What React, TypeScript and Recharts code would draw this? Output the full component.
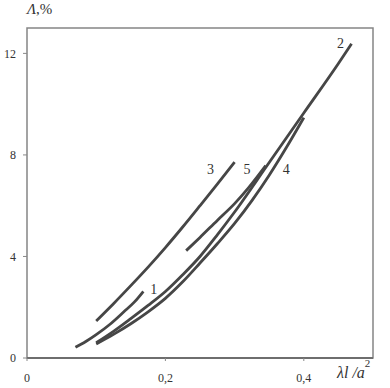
import { LineChart, Line, XAxis, YAxis, ReferenceArea, ReferenceDot } from 'recharts'

// curves: x = λl/a², y = Λ, %
const curve1X = [0.07, 0.085, 0.1, 0.12, 0.14, 0.155, 0.168]
const curve1Y = [0.42, 0.65, 0.92, 1.33, 1.82, 2.2, 2.62]

const curve2X = [0.1, 0.125, 0.15, 0.175, 0.2, 0.225, 0.25, 0.275, 0.3, 0.35, 0.4, 0.45, 0.469]
const curve2Y = [0.6, 1.05, 1.55, 2.07, 2.62, 3.28, 4.0, 4.85, 5.75, 7.7, 9.65, 11.6, 12.38]

const curve3X = [0.1, 0.125, 0.15, 0.175, 0.2, 0.225, 0.25, 0.275, 0.3]
const curve3Y = [1.46, 2.14, 2.85, 3.58, 4.35, 5.16, 6.0, 6.85, 7.72]

const curve4X = [0.1, 0.125, 0.15, 0.175, 0.2, 0.225, 0.25, 0.275, 0.3, 0.325, 0.35, 0.375, 0.4]
const curve4Y = [0.55, 0.93, 1.35, 1.82, 2.35, 3.0, 3.74, 4.5, 5.3, 6.2, 7.2, 8.3, 9.47]

const curve5X = [0.23, 0.25, 0.275, 0.3, 0.32, 0.345]
const curve5Y = [4.23, 4.75, 5.42, 6.08, 6.7, 7.58]

const curveNames = ['1', '2', '3', '4', '5']
const labelX = [0.183, 0.453, 0.265, 0.3745, 0.318]
const labelY = [2.7, 12.39, 7.43, 7.43, 7.43]

const xTicks = [0, 0.2, 0.4]
const yTicks = [0, 4, 8, 12]

const toPoints = (xs: number[], ys: number[]) => xs.map((x, i) => ({ x, y: ys[i] }))

const curves = [
  toPoints(curve1X, curve1Y),
  toPoints(curve2X, curve2Y),
  toPoints(curve3X, curve3Y),
  toPoints(curve4X, curve4Y),
  toPoints(curve5X, curve5Y),
]

const serif = '"Liberation Serif", "DejaVu Serif", serif'
const lineColor = '#464646'
const textColor = '#333'

const CurveLabel = ({ viewBox, value }: any) => {
  if (!viewBox) return null
  const cx = viewBox.x + (viewBox.width || 0) / 2
  const cy = viewBox.y + (viewBox.height || 0) / 2
  return (
    <text x={cx} y={cy} dy="0.35em" textAnchor="middle" fill={textColor} fontSize={14} fontFamily={serif}>
      {value}
    </text>
  )
}

export default function App() {
  return (
    <div style={{ position: 'absolute', left: 0, top: 0, width: 390, height: 388, background: '#fff' }}>
      <LineChart width={390} height={388} margin={{ top: 28, right: 17, left: 0, bottom: 0 }}>
        <XAxis
          type="number"
          dataKey="x"
          domain={[0, 0.5]}
          ticks={xTicks}
          height={30}
          axisLine={{ stroke: '#6e6e6e', strokeWidth: 2 }}
          tickLine={{ stroke: '#888' }}
          tickSize={3}
          tickMargin={12}
          tick={{ fill: textColor, fontSize: 12, fontFamily: serif }}
          tickFormatter={(v: number) => (v === 0 ? '0' : String(v).replace('.', ','))}
          allowDataOverflow
        />
        <YAxis
          type="number"
          dataKey="y"
          domain={[0, 13]}
          ticks={yTicks}
          width={27}
          axisLine={false}
          tickLine={{ stroke: '#888' }}
          tickSize={4}
          tickMargin={7}
          tick={{ fill: textColor, fontSize: 12, fontFamily: serif }}
          allowDataOverflow
        />
        <ReferenceArea x1={0} x2={0.5} y1={0} y2={13} fill="none" stroke="#858585" strokeWidth={1.5} />
        {curves.map((pts, i) => (
          <Line
            key={curveNames[i]}
            data={pts}
            dataKey="y"
            type="monotone"
            stroke={lineColor}
            strokeWidth={2.8}
            dot={false}
            activeDot={false}
            isAnimationActive={false}
          />
        ))}
        {curveNames.map((name, i) => (
          <ReferenceDot
            key={'lbl' + name}
            x={labelX[i]}
            y={labelY[i]}
            r={0}
            fill="none"
            stroke="none"
            label={<CurveLabel value={name} />}
          />
        ))}
        <text x={27} y={14} fontFamily={serif} fontSize={15} fill={textColor}>
          <tspan fontStyle="italic">Λ</tspan>
          <tspan>,%</tspan>
        </text>
        <text x={337} y={378} fontFamily={serif} fontSize={16} fill={textColor}>
          <tspan fontStyle="italic">λl /a</tspan>
          <tspan fontSize={11} dy={-11}>2</tspan>
        </text>
      </LineChart>
    </div>
  )
}
